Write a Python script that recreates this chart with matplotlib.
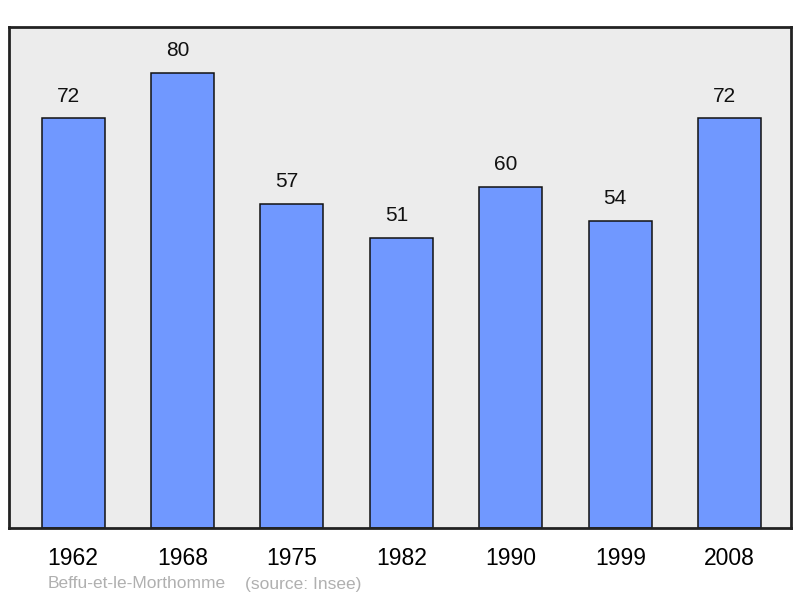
import numpy as np
import matplotlib.pyplot as plt

plt.rcParams['font.family'] = ['Liberation Sans', 'DejaVu Sans']

years = ['1962', '1968', '1975', '1982', '1990', '1999', '2008']
population = [72, 80, 57, 51, 60, 54, 72]
commune = 'Beffu-et-le-Morthomme'
source = '(source: Insee)'

fig = plt.figure(figsize=(8, 5.98), dpi=100)
ax = fig.add_axes([9 / 800, 70 / 598, 782 / 800, 501 / 598])
ax.set_facecolor('#ececec')

x = np.arange(len(years))
ax.bar(x, population, width=0.576, color='#7098ff', edgecolor='#111111', linewidth=1.1, zorder=2)
for xi, v in zip(x, population):
    ax.annotate(str(v), (xi, v), xytext=(-3.6, 16), textcoords='offset points',
                ha='center', va='center', fontsize=15, color='#111111')

ax.set_xlim(-0.585, 6.56)
ax.set_ylim(0, 88.05)
ax.set_xticks(x)
ax.set_xticklabels(years, fontsize=16.5)
ax.tick_params(axis='x', length=0, pad=14)
ax.set_yticks([])
for s in ax.spines.values():
    s.set_linewidth(2)
    s.set_color('#222222')

fig.text(48 / 800, 1 - 584 / 598, commune, fontsize=12.5, color='#b0b0b0', va='center', ha='left')
fig.text(245 / 800, 1 - 584 / 598, source, fontsize=12.5, color='#b0b0b0', va='center', ha='left')

fig.savefig('out.png', dpi=100)
